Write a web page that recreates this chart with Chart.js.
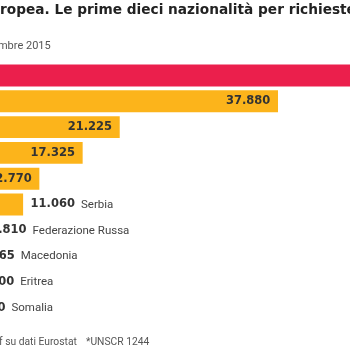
<!DOCTYPE html>
<html>
<head>
<meta charset="utf-8">
<script src="https://cdn.jsdelivr.net/npm/chart.js@4.4.1/dist/chart.umd.min.js"></script>
<style>
  html, body { margin: 0; padding: 0; background: #ffffff; overflow: hidden; width: 350px; height: 350px; }
  #wrap { position: absolute; left: -82px; top: 0; width: 432px; height: 350px; }
</style>
</head>
<body>
<div id="wrap"><canvas id="c" width="432" height="350"></canvas></div>
<script>
// ---- data ----
const categories = ["Siria", "Afghanistan", "Iraq", "Kosovo*", "Albania", "Serbia", "Federazione Russa", "Macedonia", "Eritrea", "Somalia"];
const values = [58000, 37880, 21225, 17325, 12770, 11060, 6810, 5565, 5500, 4580];
const barColors = ["#EB1F4C", "#FCB41B", "#FCB41B", "#FCB41B", "#FCB41B", "#FCB41B", "#FCB41B", "#FCB41B", "#FCB41B", "#FCB41B"];
const titleHidden = "Richieste d'asilo nell'Unione Eu";
const titleVisible = "ropea. Le prime dieci nazionalità per richieste d'asilo";
const subtitleText = "Luglio-settembre 2015";
const sourceHidden = "Fonte: elaborazione staf";
const sourceVisible = "f su dati Eurostat";
const noteText = "*UNSCR 1244";
const insideThreshold = 12000;

const OFF = 82; // canvas is shifted 82px to the left of the page

function fmt(v) {
  return String(v).replace(/\B(?=(\d{3})+(?!\d))/g, ".");
}

const labelPlugin = {
  id: "labels",
  afterDatasetsDraw(chart) {
    const ctx = chart.ctx;
    const meta = chart.getDatasetMeta(0);
    ctx.save();
    ctx.textBaseline = "middle";
    meta.data.forEach((bar, i) => {
      const v = values[i];
      const label = fmt(v);
      const y = bar.y;
      ctx.font = "bold 11.5px 'DejaVu Sans'";
      if (v >= insideThreshold) {
        ctx.fillStyle = "#333333";
        ctx.textAlign = "right";
        ctx.fillText(label, bar.x - 7.7, y);
        ctx.textAlign = "left";
        ctx.font = "11.5px Roboto";
        ctx.fillStyle = i === 0 ? "#ffffff" : "#333333";
        ctx.fillText(categories[i], bar.base + 8, y);
      } else {
        ctx.fillStyle = "#333333";
        ctx.textAlign = "left";
        const x0 = bar.x + 7.5;
        ctx.fillText(label, x0, y);
        const w = ctx.measureText(label).width;
        ctx.font = "11.5px Roboto";
        ctx.fillStyle = "#444444";
        ctx.fillText(categories[i], x0 + w + 6, y + 0.5);
      }
    });
    ctx.restore();
  },
  afterDraw(chart) {
    const ctx = chart.ctx;
    ctx.save();
    ctx.textBaseline = "alphabetic";
    // title
    ctx.font = "bold 13.7px 'DejaVu Sans'";
    ctx.fillStyle = "#222222";
    ctx.textAlign = "right";
    ctx.fillText(titleHidden, OFF + 0, 14);
    ctx.textAlign = "left";
    ctx.fillText(titleVisible, OFF + 0, 14);
    // subtitle
    ctx.font = "11px Roboto";
    ctx.fillStyle = "#555555";
    ctx.textAlign = "right";
    ctx.fillText(subtitleText, OFF + 50.7, 49);
    // footer
    ctx.font = "10.3px Roboto";
    ctx.fillStyle = "#555555";
    ctx.textAlign = "right";
    ctx.fillText(sourceHidden, OFF - 1, 345);
    ctx.textAlign = "left";
    ctx.fillText(sourceVisible, OFF - 1, 345);
    ctx.fillText(noteText, OFF + 86, 345);
    ctx.restore();
  }
};

new Chart(document.getElementById("c"), {
  type: "bar",
  data: {
    labels: categories,
    datasets: [{
      data: values,
      backgroundColor: barColors,
      borderWidth: 0,
      categoryPercentage: 1,
      barPercentage: 0.85
    }]
  },
  options: {
    indexAxis: "y",
    responsive: false,
    animation: false,
    events: [],
    layout: { padding: { top: 62.6, bottom: 29.4, left: 0, right: 0 } },
    scales: {
      x: { type: "linear", min: 0, max: 45455, display: false },
      y: { type: "category", display: false }
    },
    plugins: { legend: { display: false }, tooltip: { enabled: false }, title: { display: false } }
  },
  plugins: [labelPlugin]
});
</script>
</body>
</html>
